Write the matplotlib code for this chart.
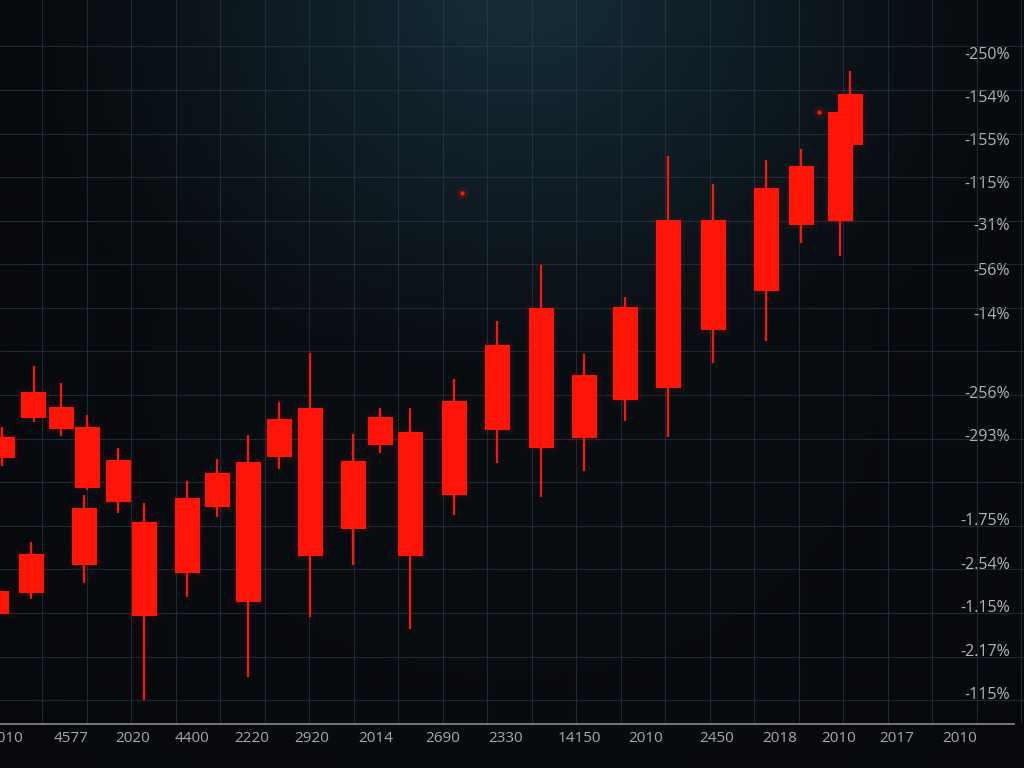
import numpy as np
import matplotlib.pyplot as plt

plt.rcParams['font.family'] = ['Open Sans', 'DejaVu Sans']

# candle data: x position and price (0-100 scale)
x_pos = [2, 33.5, 61, 87, 118, 84, 31, -4, 144, 187, 217, 248, 279, 310,
         353, 380, 410, 454, 497, 541, 584, 625, 668, 713, 766, 801, 840, 850]
opens = [39.6, 45.9, 43.8, 41.0, 36.5, 29.8, 23.5, 18.4, 27.9, 31.2, 34.7, 36.2, 42.1, 43.6,
         36.3, 42.4, 40.3, 44.6, 52.3, 57.5, 48.2, 57.6, 69.6, 69.6, 74.0, 77.1, 84.5, 87.0]
closes = [36.7, 42.3, 40.7, 32.6, 30.7, 22.0, 18.1, 15.2, 14.9, 20.9, 30.0, 16.9, 36.9, 23.2,
          26.9, 38.5, 23.2, 31.6, 40.6, 38.1, 39.5, 44.8, 46.4, 54.4, 59.8, 68.9, 69.5, 80.0]
highs = [41.0, 49.4, 47.1, 42.7, 38.1, 31.6, 25.1, 18.4, 30.5, 33.6, 36.6, 39.9, 44.5, 51.2,
         40.1, 43.6, 43.6, 47.7, 55.7, 63.4, 51.1, 59.0, 78.5, 74.6, 77.9, 79.4, 84.5, 90.2]
lows = [35.6, 41.7, 39.8, 32.3, 29.1, 19.5, 17.3, 15.2, 3.3, 17.5, 28.6, 6.5, 35.2, 14.8,
        22.0, 37.4, 13.1, 28.9, 36.0, 31.4, 34.9, 41.9, 39.6, 49.9, 52.9, 66.4, 64.6, 80.0]

glint_x = [819, 462]
glint_y = [84.5, 73.3]

xtick_pos = [6, 71, 133, 192, 252, 312, 376, 443, 506, 579, 646, 717, 780, 839, 897, 960]
xtick_labels = ['2010', '4577', '2020', '4400', '2220', '2920', '2014', '2690', '2330',
                '14150', '2010', '2450', '2018', '2010', '2017', '2010']
ytick_pos = [92.7, 86.7, 80.8, 74.9, 69.1, 62.8, 56.8, 45.9, 39.9, 28.3, 22.2, 16.3, 10.2, 4.3]
ytick_labels = ['-250%', '-154%', '-155%', '-115%', '-31%', '-56%', '-14%', '-256%', '-293%',
                '-1.75%', '-2.54%', '-1.15%', '-2.17%', '-115%']

red = '#ff1408'

fig = plt.figure(figsize=(10.24, 7.68), dpi=100)
fig.patch.set_facecolor('#07090c')

# dark background with teal glow at the top
bg = fig.add_axes([0, 0, 1, 1], zorder=0)
h, w = 768, 1024
yy, xx = np.mgrid[0:h, 0:w]
d = np.sqrt(((xx - 520) / 580.0) ** 2 + ((yy + 40) / 450.0) ** 2)
glow = np.clip(1 - d, 0, 1) ** 1.4
base = np.array([9, 12, 17]) / 255
teal = np.array([27, 58, 72]) / 255
img = base + glow[..., None] * (teal - base)
vd = np.sqrt(((xx - 512) / 700.0) ** 2 + ((yy - 384) / 560.0) ** 2)
img = img * np.clip(1.15 - 0.45 * vd, 0.45, 1)[..., None]
bg.imshow(np.clip(img, 0, 1), aspect='auto', extent=[0, 1, 0, 1])
bg.axis('off')

ax = fig.add_axes([0, 44 / 768, 1, 724 / 768], zorder=1)
ax.patch.set_alpha(0)
ax.set_xlim(0, 1024)
ax.set_ylim(0, 100)

# grid
ax.set_xticks(np.arange(42, 1024, 44.5), minor=True)
ax.set_yticks(np.linspace(3.3, 93.6, 16), minor=True)
ax.grid(which='minor', color='#2c3f4c', lw=0.8, alpha=0.6)
ax.grid(which='major', visible=False)

# candles with a soft glow
for x, o, c, hi, lo in zip(x_pos, opens, closes, highs, lows):
    ax.bar(x, o - c, bottom=c, width=25, color=red, edgecolor=red, lw=5, alpha=0.06, zorder=2)
    ax.vlines(x, lo, hi, color=red, lw=1.6, zorder=3)
    ax.bar(x, o - c, bottom=c, width=25, color=red, lw=0, zorder=3)

ax.scatter(glint_x, glint_y, s=80, color=red, alpha=0.12, lw=0, zorder=3)
ax.scatter(glint_x, glint_y, s=10, color=red, lw=0, zorder=4)

# axes text
ax.set_xticks(xtick_pos, xtick_labels)
ax.tick_params(axis='x', which='both', length=0, pad=5, colors='#a8a8a8', labelsize=11)
ax.yaxis.tick_right()
ax.set_yticks(ytick_pos, ytick_labels)
ax.tick_params(axis='y', which='both', length=0, pad=-10, colors='#b5b5b5', labelsize=11.5)
for lab in ax.get_yticklabels():
    lab.set_horizontalalignment('right')

for s in ['top', 'left', 'right']:
    ax.spines[s].set_visible(False)
ax.spines['bottom'].set_color('#8a8a8a')
ax.spines['bottom'].set_linewidth(1.2)
ax.spines['bottom'].set_bounds(0, 1014)

fig.savefig('out.png', dpi=100, facecolor=fig.get_facecolor())
